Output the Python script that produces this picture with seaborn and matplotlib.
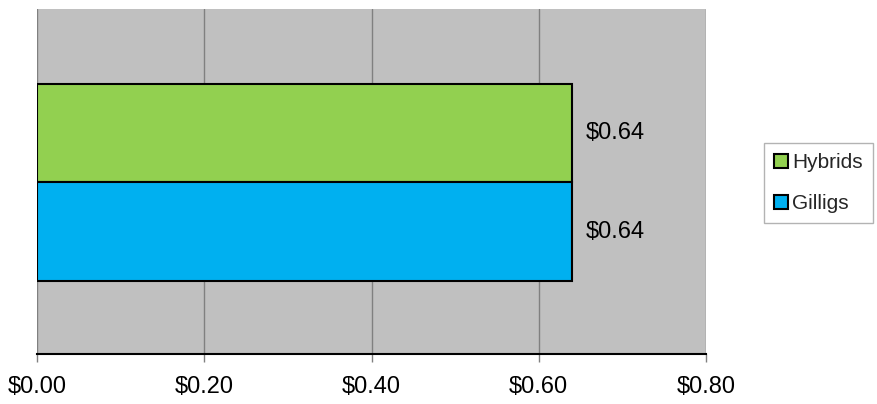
import matplotlib
matplotlib.use("Agg")
import matplotlib.pyplot as plt
import seaborn as sns
import pandas as pd
from matplotlib.ticker import FuncFormatter

series = ["Hybrids", "Gilligs"]
values = [0.64, 0.64]
category = ["Cost"]
colors = ["#92D050", "#00B0F0"]
xticks = [0.0, 0.2, 0.4, 0.6, 0.8]

sns.set_theme(style="white")
plt.rcParams["font.family"] = ["Liberation Sans", "DejaVu Sans"]

df = pd.DataFrame({"cat": category * len(series), "series": series, "value": values})

fig = plt.figure(figsize=(8.77, 4.04), dpi=100)
ax = fig.add_axes([37/877, 1-354/404, (706-37)/877, (354-9)/404])
ax.set_facecolor("#C0C0C0")

sns.barplot(data=df, y="cat", x="value", hue="series", hue_order=series,
            palette=colors, orient="h", width=1.0, edgecolor="black",
            linewidth=1.5, saturation=1, ax=ax, legend=True)

ax.set_xlim(0, 0.8)
ax.set_ylim(0.5 + 0.371, -0.5 - 0.381)
ax.set_xticks(xticks)
ax.xaxis.set_major_formatter(FuncFormatter(lambda v, p: f"${v:.2f}"))
ax.set_yticks([])
ax.set_xlabel("")
ax.set_ylabel("")
ax.grid(axis="x", color="#808080", linewidth=1)
ax.set_axisbelow(True)
for s in ["top", "right", "left"]:
    ax.spines[s].set_visible(False)
ax.spines["bottom"].set_color("black")
ax.spines["bottom"].set_linewidth(1.5)
ax.tick_params(axis="x", bottom=True, length=6, color="#808080", width=1,
               pad=10, labelsize=17, labelcolor="black")

for cont in ax.containers:
    ax.bar_label(cont, labels=[f"${v:.2f}" for v in cont.datavalues],
                 padding=10, fontsize=17, color="black")

handles, labels = ax.get_legend_handles_labels()
ax.get_legend().remove()
leg = fig.legend(handles, labels, loc="center",
                 bbox_to_anchor=(818.5/877, 1-183/404),
                 fontsize=15, frameon=True, fancybox=False,
                 edgecolor="#A0A0A0", handlelength=0.65, handleheight=0.65,
                 handletextpad=0.2, labelspacing=1.05, borderpad=0.5)
leg.get_frame().set_linewidth(1)
for h in leg.legend_handles:
    h.set_edgecolor("black")
    h.set_linewidth(1.5)

fig.savefig("out.png", dpi=100)
